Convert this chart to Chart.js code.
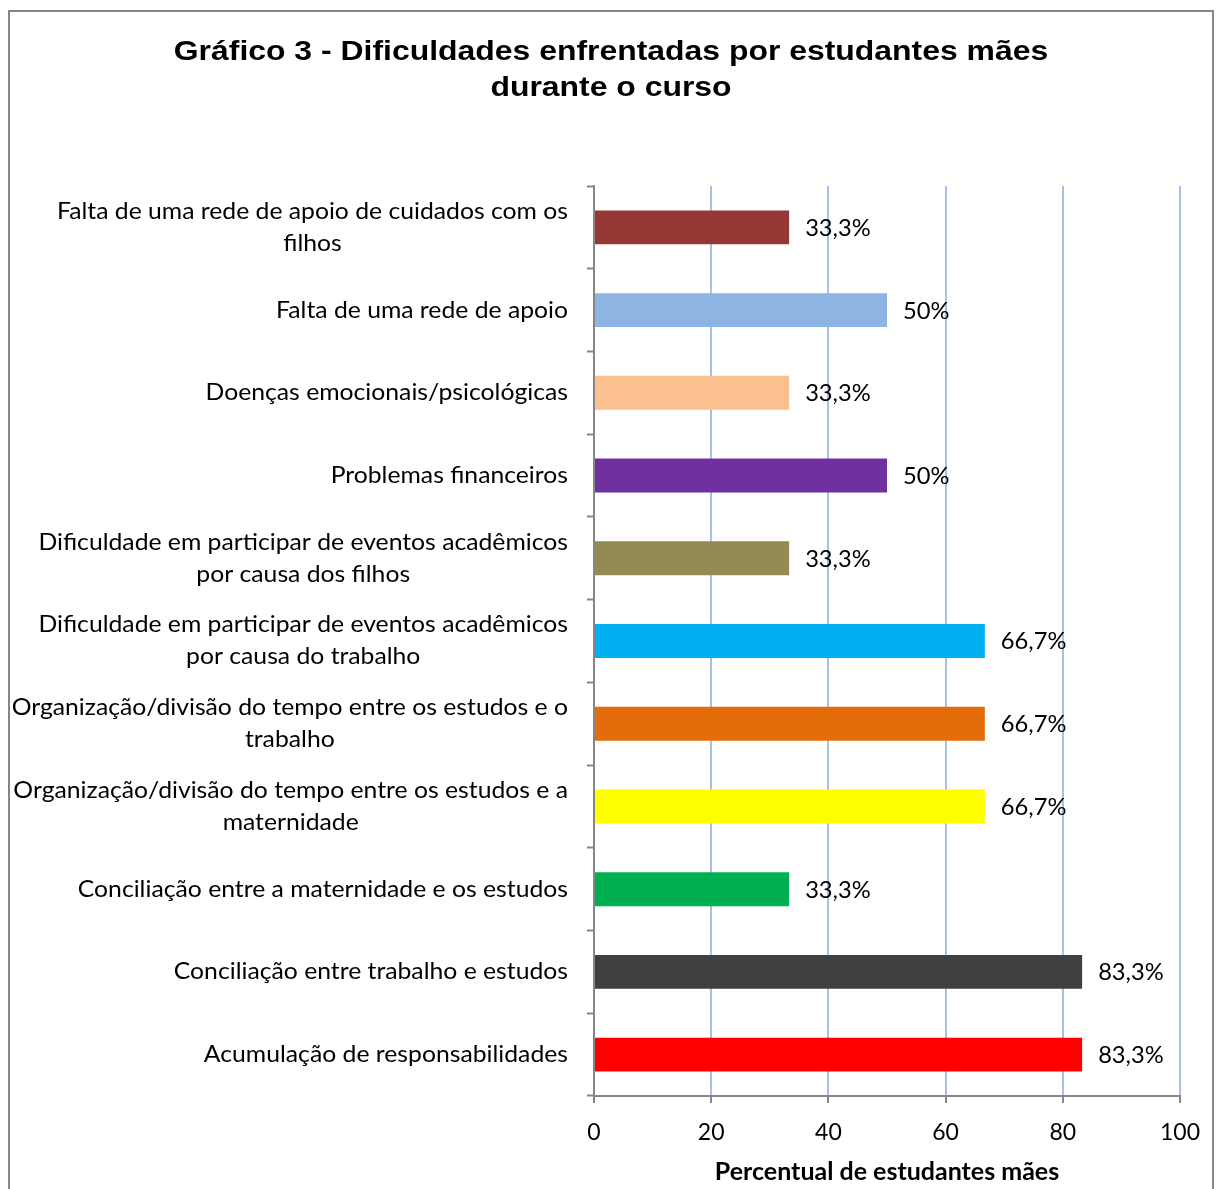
<!DOCTYPE html>
<html>
<head>
<meta charset="utf-8">
<script src="https://cdn.jsdelivr.net/npm/chart.js@4"></script>
<style>
  html, body { margin: 0; padding: 0; background: #fff; overflow: hidden; }
  #wrap { position: relative; width: 1216px; height: 1189px; }
  #frame { position: absolute; left: 8px; top: 10px; width: 1206px; height: 1250px;
           border: 2px solid #868686; box-sizing: border-box; pointer-events: none; }
</style>
</head>
<body>
<div id="wrap">
  <canvas id="chart" width="1216" height="1189"></canvas>
  <div id="frame"></div>
</div>
<script>
// Categories (top to bottom), values in % and bar colours
const categories = [
    ['Falta de uma rede de apoio de cuidados com os', 'filhos'],
    ['Falta de uma rede de apoio'],
    ['Doenças emocionais/psicológicas'],
    ['Problemas financeiros'],
    ['Dificuldade em participar de eventos acadêmicos', 'por causa dos filhos'],
    ['Dificuldade em participar de eventos acadêmicos', 'por causa do trabalho'],
    ['Organização/divisão do tempo entre os estudos e o', 'trabalho'],
    ['Organização/divisão do tempo entre os estudos e a', 'maternidade'],
    ['Conciliação entre a maternidade e os estudos'],
    ['Conciliação entre trabalho e estudos'],
    ['Acumulação de responsabilidades']
];
const values = [33.3, 50, 33.3, 50, 33.3, 66.7, 66.7, 66.7, 33.3, 83.3, 83.3];
const barColors = ['#953735', '#8EB4E3', '#FAC090', '#7030A0', '#948A54', '#00B0F0',
                   '#E46C0A', '#FFFF00', '#00B050', '#404040', '#FF0000'];
const xTicks = [0, 20, 40, 60, 80, 100];
const titleLines = ['Gráfico 3 - Dificuldades enfrentadas por estudantes mães', 'durante o curso'];

const labelFont = '"Lato", "Noto Sans", sans-serif';
const axisGray = '#868686';

function pct(v) {
    return (Number.isInteger(v) ? String(v) : v.toFixed(1).replace('.', ',')) + '%';
}

// text drawn slightly stretched horizontally, like the original picture
function stretchText(ctx, text, x, y, sx) {
    ctx.save();
    ctx.translate(x, y);
    ctx.scale(sx, 1);
    ctx.fillText(text, 0, 0);
    ctx.restore();
}

const textPlugin = {
    id: 'textPlugin',
    afterDatasetsDraw(chart) {
        const ctx = chart.ctx;
        const yScale = chart.scales.y;
        const bars = chart.getDatasetMeta(0).data;
        ctx.save();
        ctx.fillStyle = '#000';
        ctx.textBaseline = 'middle';
        ctx.textAlign = 'center';

        // title
        ctx.font = 'bold 28px "Liberation Sans", Arial, sans-serif';
        titleLines.forEach((t, j) => stretchText(ctx, t, 611, 52 + j * 36, 1.14));

        // category labels: block right aligned, lines centered
        const sx = 1.075;
        ctx.font = '23px ' + labelFont;
        const lineH = 32;
        categories.forEach((lines, i) => {
            const yc = yScale.getPixelForValue(i);
            const w = Math.max(...lines.map(l => ctx.measureText(l).width)) * sx;
            const cx = yScale.right - 26 - w / 2;
            lines.forEach((l, j) => {
                stretchText(ctx, l, cx, yc + (j - (lines.length - 1) / 2) * lineH, sx);
            });
        });

        // value labels
        ctx.textAlign = 'left';
        bars.forEach((bar, i) => {
            stretchText(ctx, pct(values[i]), bar.x + 16, bar.y + 1, 1.03);
        });
        ctx.restore();
    }
};

new Chart(document.getElementById('chart'), {
    type: 'bar',
    data: {
        labels: categories.map(c => c.join(' ')),
        datasets: [{
            data: values,
            backgroundColor: barColors,
            borderWidth: 0,
            barPercentage: 0.41,
            categoryPercentage: 1.0
        }]
    },
    options: {
        indexAxis: 'y',
        responsive: false,
        animation: false,
        layout: { padding: { left: 0, right: 36, top: 186, bottom: 0 } },
        plugins: {
            legend: { display: false },
            tooltip: { enabled: false },
            title: { display: false }
        },
        scales: {
            x: {
                min: 0,
                max: 100,
                afterBuildTicks: s => { s.ticks = xTicks.map(v => ({ value: v })); },
                afterFit: s => { s.height = 93; },
                grid: { color: '#A7C0E6', lineWidth: 2, tickColor: axisGray, tickLength: 7, tickWidth: 2 },
                border: { color: axisGray, width: 2 },
                ticks: { color: '#000', font: { family: labelFont, size: 23 }, padding: 16 },
                title: {
                    display: true,
                    text: 'Percentual de estudantes mães',
                    color: '#000',
                    font: { family: labelFont, size: 25, weight: 'bold' },
                    padding: { top: 4, bottom: 2 }
                }
            },
            y: {
                afterFit: s => { s.width = 594; },
                grid: { drawOnChartArea: false, offset: true, tickColor: axisGray, tickLength: 7, tickWidth: 2 },
                border: { color: axisGray, width: 2, z: 1 },
                ticks: { display: false }
            }
        }
    },
    plugins: [textPlugin]
});
</script>
</body>
</html>
